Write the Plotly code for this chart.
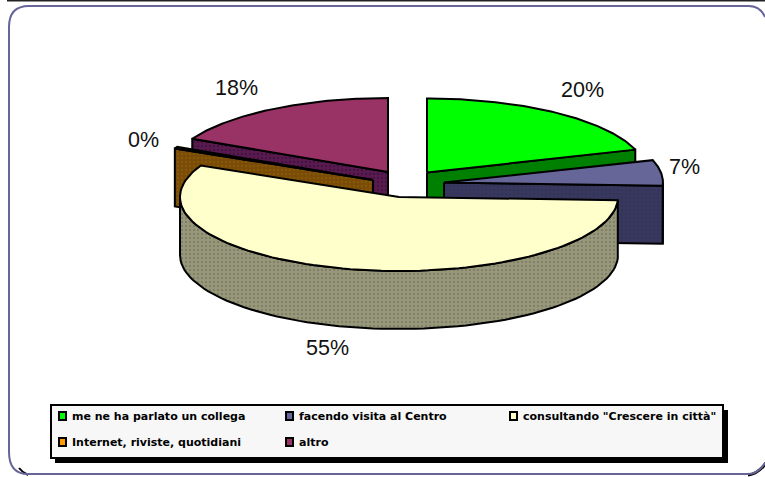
import numpy as np
import plotly.graph_objects as go

categories = ["me ne ha parlato un collega", "facendo visita al Centro",
              'consultando "Crescere in città"', "Internet, riviste, quotidiani", "altro"]
shares = [20.0, 5.7, 56.3, 0.4, 17.6]
percent_labels = ["20%", "7%", "55%", "0%", "18%"]

top_colors = ["#00ff00", "#666699", "#ffffcc", "#ff9900", "#993366"]
wall_bg = ["#008000", "#38385f", "#99997a", "#7a4a08", "#5a1a50"]
wall_fg = ["#008000", "#2f2f4f", "#66665f", "#8a6a00", "#2a1030"]

W, H = 765, 477
RX, RY, DEPTH = 219, 74, 58
# exploded slice apex positions (layout, in page pixels)
APEX = [(427, 172.5), (444, 182.5), (399, 197), (373, 180), (388, 172)]
DRAW_ORDER = [4, 3, 0, 1, 2]
LABEL_POS = [(582, 90), (684, 167), (327, 348), (143, 140), (236, 88)]

cum = np.cumsum([0] + shares) / sum(shares) * 2 * np.pi


def rim(a, x0, y0):
    return x0 + RX * np.sin(a), y0 - RY * np.cos(a)


fig = go.Figure()


def poly(xs, ys, fill, fg=None):
    kw = {}
    if fg is not None and fg != fill:
        kw["fillpattern"] = dict(shape=".", size=4, solidity=0.3, fgcolor=fg, bgcolor=fill)
    fig.add_trace(go.Scatter(x=list(xs), y=list(ys), mode="lines", fill="toself", fillcolor=fill,
                             line=dict(color="black", width=2), hoverinfo="skip",
                             showlegend=False, **kw))


for i in DRAW_ORDER:
    a0, a1 = cum[i], cum[i + 1]
    ax, ay = APEX[i]
    # radial cut walls facing the viewer
    for a, visible in ((a0, np.sin(a0) < 0), (a1, np.sin(a1) > 0)):
        if visible:
            rx_, ry_ = rim(a, ax, ay)
            poly([ax, rx_, rx_, ax, ax], [ay, ry_, ry_ + DEPTH, ay + DEPTH, ay], wall_bg[i], wall_fg[i])
    # outer rim wall, front half only
    lo, hi = max(a0, np.pi / 2), min(a1, 1.5 * np.pi)
    if hi > lo:
        t = np.linspace(lo, hi, 80)
        x, y = rim(t, ax, ay)
        poly(np.r_[x, x[::-1], x[0]], np.r_[y, y[::-1] + DEPTH, y[0]], wall_bg[i], wall_fg[i])
    # top face
    t = np.linspace(a0, a1, 100)
    x, y = rim(t, ax, ay)
    poly(np.r_[ax, x, ax], np.r_[ay, y, ay], top_colors[i])

shapes = [
    dict(type="line", x0=7, x1=765, y0=0.5, y1=0.5, line=dict(color="#222222", width=2)),
    dict(type="path", path="M 748 475 Q 758 474 766 463", line=dict(color="black", width=3)),
    dict(type="path", path="M 19 468 Q 22 472 28 475", line=dict(color="black", width=2)),
    dict(type="path", path="M 765 17 Q 760 6 749 6 L 29 6 Q 9 6 9 27 L 9 452 Q 9 474 28 474 L 748 474 Q 758 474 765 463",
         line=dict(color="#666699", width=2)),
    dict(type="rect", x0=55, x1=728, y0=410, y1=463, fillcolor="black", line=dict(width=0)),
    dict(type="rect", x0=51, x1=723, y0=405, y1=458, fillcolor="#f7f7f7", line=dict(color="black", width=2)),
]
annotations = []
LEG_X = [59, 286, 510]
LEG_Y = [416, 442]
for k, name in enumerate(categories):
    lx, ly = LEG_X[k % 3], LEG_Y[k // 3]
    shapes.append(dict(type="rect", x0=lx, x1=lx + 7, y0=ly - 4, y1=ly + 4, fillcolor=top_colors[k],
                       line=dict(color="black", width=2)))
    annotations.append(dict(x=lx + 11, y=ly, text=name, showarrow=False, xanchor="left", yanchor="middle",
                            font=dict(family="DejaVu Sans", size=11, color="black", weight="bold")))
for txt, (lx, ly) in zip(percent_labels, LABEL_POS):
    annotations.append(dict(x=lx, y=ly, text=txt, showarrow=False, xanchor="center", yanchor="middle",
                            font=dict(family="Liberation Sans", size=21.5, color="#111111")))

fig.update_layout(
    width=W, height=H, margin=dict(l=0, r=0, t=0, b=0), paper_bgcolor="white", plot_bgcolor="white",
    xaxis=dict(range=[0, W], visible=False, fixedrange=True),
    yaxis=dict(range=[H, 0], visible=False, fixedrange=True),
    showlegend=False, shapes=shapes, annotations=annotations,
)
fig.write_html("out.html", config={"displayModeBar": False},
               post_script="document.body.style.margin='0';document.body.style.overflow='hidden';")
